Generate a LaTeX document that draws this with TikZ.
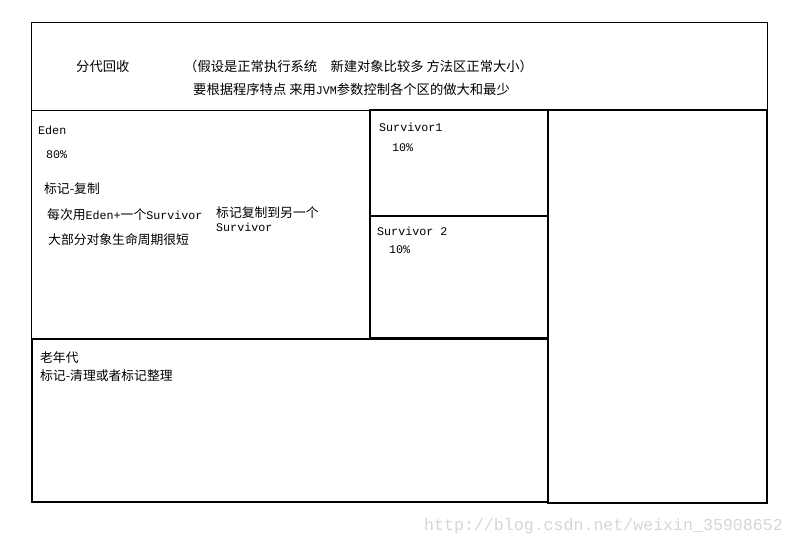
\documentclass[tikz,border=0pt]{standalone}
\usepackage{fontspec}
\setmainfont{Liberation Mono}
\newfontfamily\cjk{Noto Sans CJK SC}
\usetikzlibrary{positioning}
\newcommand{\zh}[1]{{\cjk\fontsize{12.8}{15}\selectfont #1}}
\newcommand{\zhb}[1]{{\cjk\fontsize{13.3}{15}\selectfont #1}}
\tikzset{
	thinbox/.style={draw=black,line width=0.9pt},
	heapbox/.style={draw=black,line width=1.7pt},
	lbl/.style={anchor=west,inner sep=0pt,font=\fontsize{11.7}{14}\selectfont},
	wmark/.style={lbl,text=black!16,font=\fontsize{16.6}{20}\selectfont},
}

\begin{document}
\begin{tikzpicture}[x=1pt,y=-1pt]
		\useasboundingbox[fill=white] (0,0) rectangle (796,547);
		% regions
		\draw[thinbox] (31,22) rectangle (767,110);
		\draw[thinbox] (31,110) rectangle (369,339);
		\draw[heapbox] (370,110) rectangle (548,216);
		\draw[heapbox] (370,216) rectangle (548,338);
		\draw[heapbox] (32,339) rectangle (548,502);
		\draw[heapbox] (548,110) rectangle (767,503);
		% texts
		\node[lbl] (title) at (76,66) {\zhb{分代回收}};
		\node[lbl] (note) at (184,66) {\zhb{（假设是正常执行系统　新建对象比较多 方法区正常大小）}};
		\node[lbl] (tune) at (193,89) {\zhb{要根据程序特点 来用}JVM\zhb{参数控制各个区的做大和最少}};
		\node[lbl] (eden) at (38,130) {Eden};
		\node[lbl] (edenpct) at (46,155) {80\%};
		\node[lbl] (edenalg) at (44,189) {\zh{标记-复制}};
		\node[lbl] (edenuse) at (47,215) {\zh{每次用}Eden+\zh{一个}Survivor};
		\node[lbl] (edenlife) at (48,240) {\zh{大部分对象生命周期很短}};
		\node[lbl,align=left] (copy) at (216,219) {\zh{标记复制到另一个}\\Survivor};
		\node[lbl] (surv1) at (379,127) {Survivor1};
		\node[lbl] (surv1pct) at (392,148) {10\%};
		\node[lbl] (surv2) at (377,231) {Survivor 2};
		\node[lbl] (surv2pct) at (389,250) {10\%};
		\node[lbl] (old) at (40,358) {\zh{老年代}};
		\node[lbl] (oldalg) at (40,376) {\zh{标记-清理或者标记整理}};
		\node[wmark] (site) at (424,526) {http://blog.csdn.net/weixin\_35908652};
	\end{tikzpicture}
\end{document}
